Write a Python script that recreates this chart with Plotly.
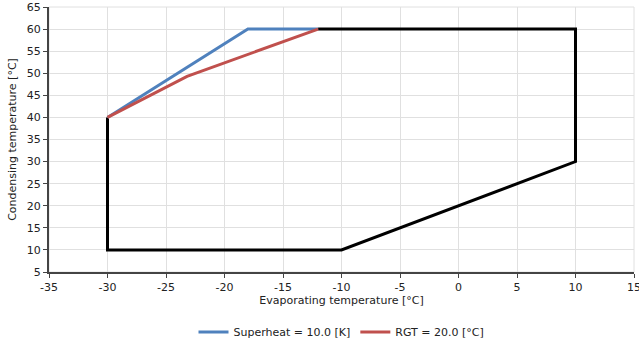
import plotly.graph_objects as go

env_x = [-12, 10, 10, -10, -30, -30]
env_y = [60, 60, 30, 10, 10, 40]
sh_x = [-30, -18, -12]
sh_y = [40, 60, 60]
rgt_x = [-30, -23.2, -12]
rgt_y = [40, 49.3, 60]
x_ticks = [-35, -30, -25, -20, -15, -10, -5, 0, 5, 10, 15]
y_ticks = [5, 10, 15, 20, 25, 30, 35, 40, 45, 50, 55, 60, 65]

font = "Verdana, DejaVu Sans, sans-serif"
fig = go.Figure()
fig.add_trace(go.Scatter(x=env_x, y=env_y, mode="lines", line=dict(color="#000000", width=3),
                         showlegend=False, hoverinfo="skip"))
fig.add_trace(go.Scatter(x=sh_x, y=sh_y, mode="lines", line=dict(color="#4f81bd", width=3),
                         name="Superheat = 10.0 [K]"))
fig.add_trace(go.Scatter(x=rgt_x, y=rgt_y, mode="lines", line=dict(color="#c0504d", width=3),
                         name="RGT = 20.0 [°C]"))

fig.update_layout(
    width=639, height=351,
    margin=dict(l=49, r=5, t=7, b=79),
    plot_bgcolor="white", paper_bgcolor="white",
    font=dict(family=font, size=11, color="#222222"),
    legend=dict(orientation="h", x=0.5, xanchor="center", y=-0.226, yanchor="middle",
                font=dict(size=11)),
)
fig.update_xaxes(range=[-35, 15], tickmode="array", tickvals=x_ticks,
                 ticktext=[str(v) for v in x_ticks], showgrid=True, gridcolor="#e0e0e0",
                 zeroline=False, showline=True, linecolor="#444444", linewidth=2,
                 ticks="outside", ticklen=4, tickcolor="#444444", automargin=False,
                 ticklabeloverflow="allow",
                 title=dict(text="Evaporating temperature [°C]", standoff=2, font=dict(size=11)))
fig.update_yaxes(range=[5, 65], tickmode="array", tickvals=y_ticks,
                 ticktext=[str(v) for v in y_ticks], showgrid=True, gridcolor="#e0e0e0",
                 zeroline=False, showline=True, linecolor="#444444", linewidth=2,
                 ticks="outside", ticklen=4, tickcolor="#444444", automargin=False,
                 title=dict(text="Condensing temperature [°C]", standoff=8, font=dict(size=11)))
fig.add_shape(type="rect", xref="paper", yref="paper", x0=0, y0=0, x1=1, y1=1,
              line=dict(color="#e0e0e0", width=1), layer="below")
fig.write_html("out.html")
